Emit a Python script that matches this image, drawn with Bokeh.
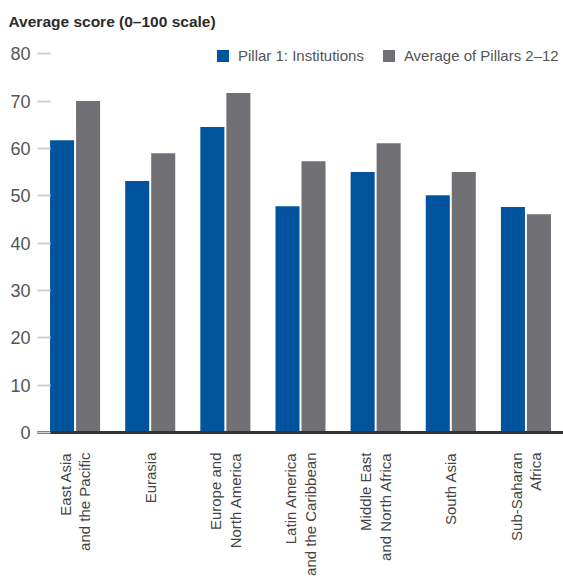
from math import pi
from bokeh.plotting import figure
from bokeh.models import (FactorRange, Range1d, FixedTicker, Legend,
                          LegendItem, ColumnDataSource)
from bokeh.transform import dodge
from bokeh.embed import file_html
from bokeh.resources import INLINE

# ---- data ----
regions = ["East Asia\nand the Pacific", "Eurasia", "Europe and\nNorth America",
           "Latin America\nand the Caribbean", "Middle East\nand North Africa",
           "South Asia", "Sub-Saharan\nAfrica"]
pillar1 = [61.7, 53.1, 64.5, 47.8, 55.0, 50.1, 47.6]
pillars_2_12 = [70.0, 59.0, 71.7, 57.3, 61.1, 55.0, 46.1]
series_names = ["Pillar 1: Institutions", "Average of Pillars 2\u201312"]
y_ticks = [0, 10, 20, 30, 40, 50, 60, 70, 80]
title_text = "Average score (0\u2013100 scale)"

BLUE = "#00549e"
GRAY = "#717175"
FONT = "Liberation Sans"

src = ColumnDataSource(dict(region=regions, p1=pillar1, p212=pillars_2_12))

p = figure(width=563, height=578,
           x_range=FactorRange(*regions, range_padding=0),
           y_range=Range1d(0, 83),
           output_backend="svg", toolbar_location=None,
           min_border_left=37, min_border_right=0,
           min_border_top=39, min_border_bottom=146)
p.outline_line_color = None
p.xgrid.grid_line_color = None
p.ygrid.grid_line_color = None

r1 = p.vbar(x=dodge("region", -0.173, range=p.x_range), top="p1", width=0.32,
            source=src, fill_color=BLUE, line_color=None)
r2 = p.vbar(x=dodge("region", 0.173, range=p.x_range), top="p212", width=0.32,
            source=src, fill_color=GRAY, line_color=None)

# title
p.title.text = title_text
p.title.text_font = FONT
p.title.text_font_size = "15.5px"
p.title.text_font_style = "bold"
p.title.text_color = "#2b2b2b"
p.title.align = "left"
p.title.offset = -29
p.title.standoff = 20

# y axis
p.yaxis.ticker = FixedTicker(ticks=y_ticks)
p.yaxis.axis_line_color = None
p.yaxis.major_tick_in = 13
p.yaxis.major_tick_out = 0
p.yaxis.major_tick_line_color = "#cfcfcf"
p.yaxis.major_tick_line_width = 2
p.yaxis.minor_tick_line_color = None
p.yaxis.major_label_standoff = 7
p.yaxis.major_label_text_font = FONT
p.yaxis.major_label_text_font_size = "18px"
p.yaxis.major_label_text_color = "#555555"

# x axis
p.xaxis.axis_line_color = "#333333"
p.xaxis.axis_line_width = 3
p.xaxis.major_tick_line_color = None
p.xaxis.minor_tick_line_color = None
p.xaxis.major_tick_out = 0
p.xaxis.major_tick_in = 0
p.xaxis.major_label_orientation = pi / 2
p.xaxis.major_label_standoff = 20
p.xaxis.major_label_text_font = FONT
p.xaxis.major_label_text_font_size = "15px"
p.xaxis.major_label_text_color = "#444444"
p.xaxis.major_label_text_line_height = 1.15

legend = Legend(items=[LegendItem(label=series_names[0], renderers=[r1]),
                       LegendItem(label=series_names[1], renderers=[r2])],
                orientation="horizontal", location=(178, 368),
                border_line_color=None, background_fill_alpha=0,
                padding=0, margin=0, spacing=17, label_standoff=8,
                glyph_width=15, glyph_height=15, label_height=12,
                label_text_font=FONT, label_text_font_size="15px",
                label_text_color="#555555")
p.add_layout(legend)

open("out.html", "w").write(file_html(p, INLINE))
